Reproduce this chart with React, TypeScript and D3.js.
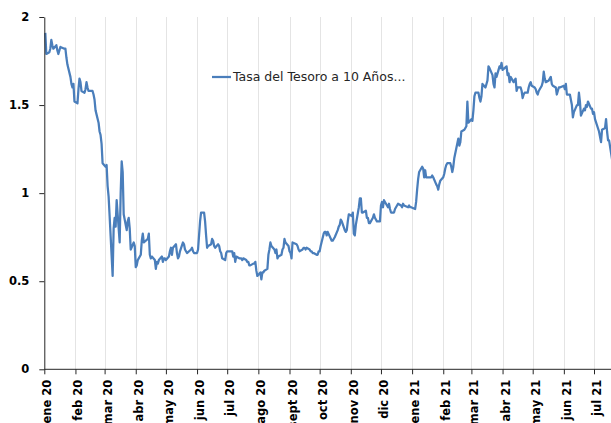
import * as d3 from "d3";
import { useEffect, useRef } from "react";

const width = 611;
const height = 423;

const serieName = "Tasa del Tesoro a 10 Años...";

const monthLabels = [
  "ene 20", "feb 20", "mar 20", "abr 20", "may 20", "jun 20", "jul 20", "ago 20", "sept 20", "oct 20",
  "nov 20", "dic 20", "ene 21", "feb 21", "mar 21", "abr 21", "may 21", "jun 21", "jul 21",
];

const yTicks = [0, 0.5, 1, 1.5, 2];

// [mes-dia, rendimiento %]
const obs2020: [string, number][] = [
  ["01-02", 1.91], ["01-03", 1.79], ["01-06", 1.8], ["01-07", 1.82], ["01-08", 1.87], ["01-09", 1.84],
  ["01-10", 1.82], ["01-13", 1.84], ["01-14", 1.81], ["01-15", 1.79], ["01-16", 1.81], ["01-17", 1.83],
  ["01-21", 1.82], ["01-22", 1.82], ["01-23", 1.77], ["01-24", 1.73], ["01-27", 1.66], ["01-28", 1.62],
  ["01-29", 1.6], ["01-30", 1.62], ["01-31", 1.52],
  ["02-03", 1.51], ["02-04", 1.59], ["02-05", 1.65], ["02-06", 1.63], ["02-07", 1.58], ["02-10", 1.57],
  ["02-11", 1.59], ["02-12", 1.63], ["02-13", 1.6], ["02-14", 1.58], ["02-18", 1.58], ["02-19", 1.56],
  ["02-20", 1.53], ["02-21", 1.47], ["02-24", 1.4], ["02-25", 1.35], ["02-26", 1.33], ["02-27", 1.28],
  ["02-28", 1.17],
  ["03-02", 1.15], ["03-03", 1.16], ["03-04", 1.04], ["03-05", 0.98], ["03-06", 0.87], ["03-09", 0.53],
  ["03-10", 0.8], ["03-11", 0.86], ["03-12", 0.81], ["03-13", 0.96], ["03-16", 0.72], ["03-17", 1.0],
  ["03-18", 1.18], ["03-19", 1.12], ["03-20", 0.88], ["03-23", 0.79], ["03-24", 0.84], ["03-25", 0.86],
  ["03-26", 0.8], ["03-27", 0.68], ["03-30", 0.72], ["03-31", 0.7],
  ["04-01", 0.58], ["04-02", 0.59], ["04-03", 0.62], ["04-06", 0.65], ["04-07", 0.73], ["04-08", 0.77],
  ["04-09", 0.72], ["04-13", 0.74], ["04-14", 0.77], ["04-15", 0.65], ["04-16", 0.63], ["04-17", 0.64],
  ["04-20", 0.62], ["04-21", 0.57], ["04-22", 0.61], ["04-23", 0.6], ["04-24", 0.62], ["04-27", 0.64],
  ["04-28", 0.61], ["04-29", 0.63], ["04-30", 0.63],
  ["05-01", 0.62], ["05-04", 0.64], ["05-05", 0.67], ["05-06", 0.69], ["05-07", 0.65], ["05-08", 0.69],
  ["05-11", 0.71], ["05-12", 0.66], ["05-13", 0.63], ["05-14", 0.64], ["05-15", 0.67], ["05-18", 0.72],
  ["05-19", 0.71], ["05-20", 0.68], ["05-21", 0.67], ["05-22", 0.66], ["05-26", 0.68], ["05-27", 0.69],
  ["05-28", 0.67], ["05-29", 0.66],
  ["06-01", 0.66], ["06-02", 0.68], ["06-03", 0.76], ["06-04", 0.84], ["06-05", 0.89], ["06-08", 0.89],
  ["06-09", 0.84], ["06-10", 0.76], ["06-11", 0.69], ["06-12", 0.7], ["06-15", 0.71], ["06-16", 0.74],
  ["06-17", 0.73], ["06-18", 0.7], ["06-19", 0.69], ["06-22", 0.71], ["06-23", 0.7], ["06-24", 0.67],
  ["06-25", 0.66], ["06-26", 0.63], ["06-29", 0.62], ["06-30", 0.66],
  ["07-01", 0.67], ["07-02", 0.67], ["07-06", 0.67], ["07-07", 0.64], ["07-08", 0.66], ["07-09", 0.61],
  ["07-10", 0.64], ["07-13", 0.63], ["07-14", 0.63], ["07-15", 0.63], ["07-16", 0.62], ["07-17", 0.63],
  ["07-20", 0.62], ["07-21", 0.61], ["07-22", 0.61], ["07-23", 0.59], ["07-24", 0.59], ["07-27", 0.6],
  ["07-28", 0.6], ["07-29", 0.61], ["07-30", 0.56], ["07-31", 0.53],
  ["08-03", 0.55], ["08-04", 0.51], ["08-05", 0.55], ["08-06", 0.55], ["08-07", 0.56], ["08-10", 0.57],
  ["08-11", 0.65], ["08-12", 0.68], ["08-13", 0.72], ["08-14", 0.7], ["08-17", 0.68], ["08-18", 0.66],
  ["08-19", 0.68], ["08-20", 0.63], ["08-21", 0.64], ["08-24", 0.65], ["08-25", 0.68], ["08-26", 0.69],
  ["08-27", 0.74], ["08-28", 0.72], ["08-31", 0.7],
  ["09-01", 0.67], ["09-02", 0.66], ["09-03", 0.63], ["09-04", 0.72], ["09-08", 0.71], ["09-09", 0.7],
  ["09-10", 0.68], ["09-11", 0.67], ["09-14", 0.68], ["09-15", 0.69], ["09-16", 0.69], ["09-17", 0.68],
  ["09-18", 0.69], ["09-21", 0.68], ["09-22", 0.67], ["09-23", 0.67], ["09-24", 0.66], ["09-25", 0.66],
  ["09-28", 0.65], ["09-29", 0.65], ["09-30", 0.67],
  ["10-01", 0.67], ["10-02", 0.7], ["10-05", 0.77], ["10-06", 0.78], ["10-07", 0.78], ["10-08", 0.76],
  ["10-09", 0.78], ["10-13", 0.73], ["10-14", 0.73], ["10-15", 0.74], ["10-16", 0.75], ["10-19", 0.79],
  ["10-20", 0.81], ["10-21", 0.82], ["10-22", 0.85], ["10-23", 0.84], ["10-26", 0.79], ["10-27", 0.78],
  ["10-28", 0.79], ["10-29", 0.84], ["10-30", 0.88],
  ["11-02", 0.87], ["11-03", 0.89], ["11-04", 0.77], ["11-05", 0.76], ["11-06", 0.82], ["11-09", 0.92],
  ["11-10", 0.97], ["11-11", 0.97], ["11-12", 0.89], ["11-13", 0.89], ["11-16", 0.9], ["11-17", 0.86],
  ["11-18", 0.86], ["11-19", 0.83], ["11-20", 0.83], ["11-23", 0.86], ["11-24", 0.88], ["11-25", 0.86],
  ["11-27", 0.84], ["11-30", 0.84],
  ["12-01", 0.93], ["12-02", 0.95], ["12-03", 0.92], ["12-04", 0.96], ["12-07", 0.93], ["12-08", 0.92],
  ["12-09", 0.94], ["12-10", 0.91], ["12-11", 0.89], ["12-14", 0.89], ["12-15", 0.91], ["12-16", 0.92],
  ["12-17", 0.93], ["12-18", 0.94], ["12-21", 0.93], ["12-22", 0.92], ["12-23", 0.94], ["12-24", 0.93],
  ["12-28", 0.92], ["12-29", 0.93], ["12-30", 0.92], ["12-31", 0.92],
];

const obs2021: [string, number][] = [
  ["01-04", 0.91], ["01-05", 0.95], ["01-06", 1.02], ["01-07", 1.08], ["01-08", 1.12], ["01-11", 1.15],
  ["01-12", 1.14], ["01-13", 1.09], ["01-14", 1.13], ["01-15", 1.09], ["01-19", 1.09], ["01-20", 1.09],
  ["01-21", 1.1], ["01-22", 1.09], ["01-25", 1.05], ["01-26", 1.04], ["01-27", 1.02], ["01-28", 1.05],
  ["01-29", 1.07],
  ["02-01", 1.09], ["02-02", 1.11], ["02-03", 1.14], ["02-04", 1.16], ["02-05", 1.17], ["02-08", 1.17],
  ["02-09", 1.15], ["02-10", 1.12], ["02-11", 1.15], ["02-12", 1.2], ["02-16", 1.31], ["02-17", 1.27],
  ["02-18", 1.29], ["02-19", 1.35], ["02-22", 1.36], ["02-23", 1.37], ["02-24", 1.38], ["02-25", 1.52],
  ["02-26", 1.4],
  ["03-01", 1.42], ["03-02", 1.41], ["03-03", 1.47], ["03-04", 1.55], ["03-05", 1.57], ["03-08", 1.57],
  ["03-09", 1.54], ["03-10", 1.52], ["03-11", 1.55], ["03-12", 1.62], ["03-15", 1.6], ["03-16", 1.62],
  ["03-17", 1.64], ["03-18", 1.72], ["03-19", 1.71], ["03-22", 1.67], ["03-23", 1.62], ["03-24", 1.6],
  ["03-25", 1.68], ["03-26", 1.66], ["03-29", 1.72], ["03-30", 1.71], ["03-31", 1.74],
  ["04-01", 1.7], ["04-05", 1.72], ["04-06", 1.67], ["04-07", 1.68], ["04-08", 1.63], ["04-09", 1.66],
  ["04-12", 1.63], ["04-13", 1.64], ["04-14", 1.65], ["04-15", 1.58], ["04-16", 1.6], ["04-19", 1.6],
  ["04-20", 1.58], ["04-21", 1.54], ["04-22", 1.56], ["04-23", 1.57], ["04-26", 1.57], ["04-27", 1.6],
  ["04-28", 1.62], ["04-29", 1.63], ["04-30", 1.61],
  ["05-03", 1.6], ["05-04", 1.59], ["05-05", 1.57], ["05-06", 1.56], ["05-07", 1.58], ["05-10", 1.61],
  ["05-11", 1.63], ["05-12", 1.69], ["05-13", 1.65], ["05-14", 1.63], ["05-17", 1.64], ["05-18", 1.65],
  ["05-19", 1.66], ["05-20", 1.62], ["05-21", 1.61], ["05-24", 1.6], ["05-25", 1.56], ["05-26", 1.58],
  ["05-27", 1.6], ["05-28", 1.6],
  ["06-01", 1.61], ["06-02", 1.59], ["06-03", 1.62], ["06-04", 1.56], ["06-07", 1.56], ["06-08", 1.53],
  ["06-09", 1.5], ["06-10", 1.43], ["06-11", 1.46], ["06-14", 1.5], ["06-15", 1.5], ["06-16", 1.57],
  ["06-17", 1.52], ["06-18", 1.44], ["06-21", 1.48], ["06-22", 1.47], ["06-23", 1.5], ["06-24", 1.49],
  ["06-25", 1.52], ["06-28", 1.48], ["06-29", 1.48], ["06-30", 1.45],
  ["07-01", 1.46], ["07-02", 1.42], ["07-06", 1.35], ["07-07", 1.32], ["07-08", 1.29], ["07-09", 1.36],
  ["07-12", 1.37], ["07-13", 1.42], ["07-14", 1.35], ["07-15", 1.3], ["07-16", 1.3], ["07-19", 1.19],
];

export default function App() {
  const ref = useRef<SVGSVGElement>(null);

  useEffect(() => {
    drawChart();
  }, []);

  const drawChart = () => {
    const svg = d3.select(ref.current);
    svg.selectAll("*").remove();

    const parse = d3.timeParse("%Y-%m-%d");
    const data = [
      ...obs2020.map(([d, v]) => ({ date: parse("2020-" + d) as Date, value: v })),
      ...obs2021.map(([d, v]) => ({ date: parse("2021-" + d) as Date, value: v })),
    ];
    const months = monthLabels.map((_, i) => new Date(2020, i, 1));

    const x = d3
      .scaleTime()
      .domain([months[0], months[months.length - 1]])
      .range([44.3, 594]);
    const y = d3.scaleLinear().domain([0, 2]).range([369.3, 17]);

    // rejilla vertical
    svg
      .append("g")
      .selectAll("line")
      .data(months.slice(1))
      .join("line")
      .attr("x1", (d) => Math.round(x(d)) + 0.5)
      .attr("x2", (d) => Math.round(x(d)) + 0.5)
      .attr("y1", y(2))
      .attr("y2", y(0))
      .attr("stroke", "#e4e4e4")
      .attr("stroke-width", 1);

    const line = d3
      .line<{ date: Date; value: number }>()
      .x((d) => x(d.date))
      .y((d) => y(d.value));

    svg
      .append("path")
      .datum(data)
      .attr("fill", "none")
      .attr("stroke", "#4a7ebb")
      .attr("stroke-width", 2.25)
      .attr("stroke-linejoin", "round")
      .attr("d", line);

    // eje x
    const xAxis = svg
      .append("g")
      .attr("transform", `translate(0,${y(0)})`)
      .call(
        d3
          .axisBottom(x)
          .tickValues(months)
          .tickFormat((_, i) => monthLabels[i])
          .tickSize(5)
          .tickSizeOuter(0)
      );
    xAxis.select(".domain").remove();
    xAxis.selectAll(".tick line").attr("stroke", "#262626");
    xAxis
      .selectAll(".tick text")
      .attr("transform", "rotate(-90)")
      .attr("text-anchor", "end")
      .attr("x", -10.5)
      .attr("y", 2.5)
      .attr("dy", "0.35em");
    xAxis
      .append("line")
      .attr("x1", x(months[0]))
      .attr("x2", width)
      .attr("y1", 0)
      .attr("y2", 0)
      .attr("stroke", "#262626");

    // eje y
    const yAxis = svg
      .append("g")
      .attr("transform", `translate(${x(months[0])},0)`)
      .call(
        d3
          .axisLeft(y)
          .tickValues(yTicks)
          .tickFormat((d) => String(d))
          .tickSize(5)
          .tickSizeOuter(0)
      );
    yAxis.select(".domain").attr("stroke", "#262626");
    yAxis.selectAll(".tick line").attr("stroke", "#262626");
    yAxis.selectAll(".tick text").attr("x", -15);

    svg
      .selectAll(".tick text")
      .attr("font-family", "'DejaVu Sans', sans-serif")
      .attr("font-weight", "bold")
      .attr("font-size", 11.5)
      .attr("fill", "#000");

    // leyenda
    const legend = svg.append("g").attr("transform", "translate(212,77)");
    legend
      .append("line")
      .attr("x1", 0)
      .attr("x2", 19)
      .attr("stroke", "#4a7ebb")
      .attr("stroke-width", 2.25);
    legend
      .append("text")
      .attr("x", 21)
      .attr("dy", "0.35em")
      .attr("font-family", "'DejaVu Sans', sans-serif")
      .attr("font-size", 12.5)
      .attr("fill", "#262626")
      .text(serieName);
  };

  return (
    <svg
      ref={ref}
      width={width}
      height={height}
      style={{ position: "absolute", left: 0, top: 0, background: "#fff" }}
    ></svg>
  );
}
